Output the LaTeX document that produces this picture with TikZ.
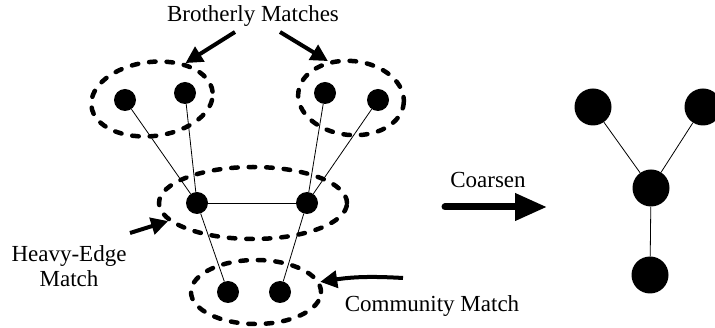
\documentclass[tikz,border=0pt]{standalone}
\usepackage{fontspec}
\setmainfont{Liberation Serif}
\usetikzlibrary{
    arrows.meta,
    shapes.geometric,
    positioning
}
\tikzset{vtx/.style={inner sep=0pt, circle, minimum size=22pt, fill=black}}
\tikzset{bigvtx/.style={inner sep=0pt, circle, minimum size=37pt, fill=black}}
\tikzset{grp/.style={ellipse, inner sep=0pt, draw=black, line width=4.5pt, line cap=round, dash pattern=on 6.5pt off 11pt}}
\tikzset{lbl/.style={inner sep=0pt, align=center, font=\rmfamily\fontsize{23}{25}\selectfont}}
\tikzset{ptr/.style={line width=4pt, -{Triangle[length=17pt,width=17pt]}}}

\begin{document}
\begin{tikzpicture}[x=1pt, y=-1pt]
    \useasboundingbox (0, 0) rectangle (715, 328);
    % fine graph
    \node[vtx] (tl1) at (125, 100) {};
    \node[vtx] (tl2) at (185, 93) {};
    \node[vtx] (tr1) at (325, 93) {};
    \node[vtx] (tr2) at (378, 100) {};
    \node[vtx] (ml) at (197, 203) {};
    \node[vtx] (mr) at (307, 203) {};
    \node[vtx] (bl) at (228, 292) {};
    \node[vtx] (br) at (280, 292) {};
    \draw[line width=0.8pt]
    (tl1) edge (ml)
    (tl2) edge (ml)
    (tr1) edge (mr)
    (tr2) edge (mr)
    (ml) edge (mr)
    (ml) edge (bl)
    (mr) edge (br);
    % matches
    \node[grp, minimum width=122pt, minimum height=74pt, rotate=7] (grpTL) at (152, 99) {};
    \node[grp, minimum width=106pt, minimum height=74pt, rotate=-6] (grpTR) at (351, 98) {};
    \node[grp, minimum width=188pt, minimum height=72pt] (grpM) at (253, 203) {};
    \node[grp, minimum width=130pt, minimum height=64pt] (grpB) at (256, 292) {};
    % labels
    \node[lbl] (brother) at (253, 16) {Brotherly Matches};
    \node[lbl] (heavy) at (69, 266) {Heavy-Edge\\Match};
    \node[lbl] (commu) at (432, 306) {Community Match};
    \node[lbl] (coarsen) at (488, 180) {Coarsen};
    \coordinate (pBL) at (235, 32);
    \coordinate (pBR) at (280, 32);
    \coordinate (pH) at (130, 233);
    \coordinate (pC) at (403, 278);
    \draw[ptr] (pBL) -- (grpTL.40);
    \draw[ptr] (pBR) -- (grpTR.128);
    \draw[ptr] (pH) -- (grpM.192);
    \draw[ptr] (pC) to[bend right=6] (grpB.9);
    % coarse graph
    \coordinate (cs) at (445, 207);
    \coordinate (ce) at (547, 207);
    \draw[line width=7pt, line cap=round, -{Triangle[length=32pt,width=26pt]}] (cs) -- (ce);
    \node[bigvtx] (ca) at (593, 107) {};
    \node[bigvtx] (cb) at (703, 107) {};
    \node[bigvtx] (cc) at (651, 188) {};
    \node[bigvtx] (cd) at (650, 275) {};
    \draw[line width=0.8pt]
    (ca) edge (cc)
    (cb) edge (cc)
    (cc) edge (cd);
\end{tikzpicture}
\end{document}
